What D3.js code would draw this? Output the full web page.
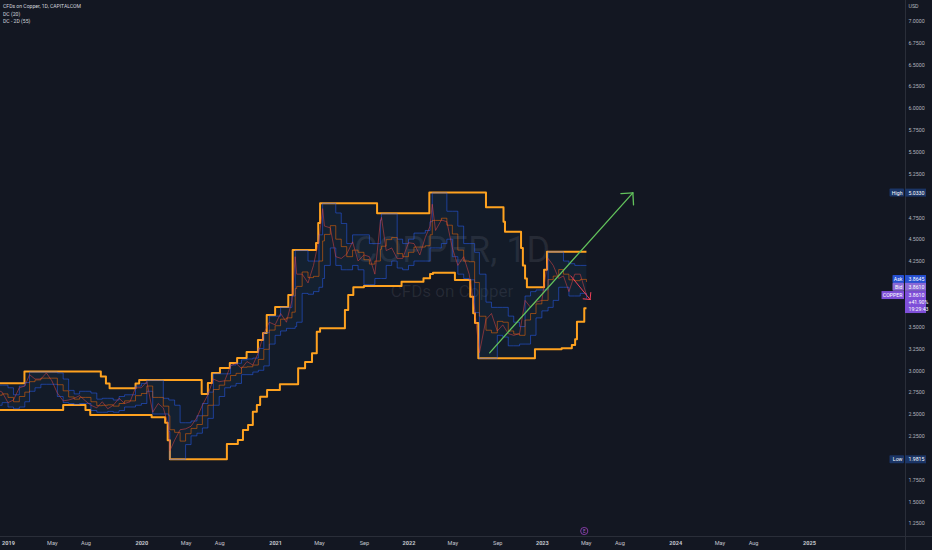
<!DOCTYPE html>
<html><head><meta charset="utf-8">
<script src="https://cdn.jsdelivr.net/npm/d3@7"></script>
<style>
html,body{margin:0;padding:0;background:#131722;overflow:hidden;}
svg{display:block;}
</style></head><body>
<svg id="chart" width="932" height="550"></svg>
<script>
// ---------- DATA ----------
const dates = [
  "2018-12-01","2018-12-16",
  "2019-01-01","2019-01-16","2019-02-01","2019-02-16","2019-03-01","2019-03-16","2019-04-01","2019-04-16","2019-05-01","2019-05-16","2019-06-01","2019-06-16",
  "2019-07-01","2019-07-16","2019-08-01","2019-08-16","2019-09-01","2019-09-16","2019-10-01","2019-10-16","2019-11-01","2019-11-16","2019-12-01","2019-12-16",
  "2020-01-01","2020-01-16","2020-02-01","2020-02-16","2020-03-01","2020-03-16","2020-03-19","2020-04-01","2020-04-16","2020-05-01","2020-05-16","2020-06-01","2020-06-16",
  "2020-07-01","2020-07-16","2020-08-01","2020-08-16","2020-09-01","2020-09-16","2020-10-01","2020-10-16","2020-11-01","2020-11-16","2020-12-01","2020-12-16",
  "2021-01-01","2021-01-16","2021-02-01","2021-02-16","2021-02-25","2021-03-01","2021-03-16","2021-04-01","2021-04-16","2021-05-01","2021-05-11","2021-05-16","2021-06-01","2021-06-16",
  "2021-07-01","2021-07-16","2021-08-01","2021-08-16","2021-09-01","2021-09-16","2021-10-01","2021-10-16","2021-10-19","2021-11-01","2021-11-16","2021-12-01","2021-12-16",
  "2022-01-01","2022-01-16","2022-02-01","2022-02-16","2022-03-01","2022-03-07","2022-03-16","2022-04-01","2022-04-16","2022-05-01","2022-05-16","2022-06-01","2022-06-16",
  "2022-07-01","2022-07-14","2022-08-01","2022-08-16","2022-09-01","2022-09-16","2022-10-01","2022-10-16","2022-11-01","2022-11-16","2022-12-01","2022-12-16",
  "2023-01-01","2023-01-18","2023-02-01","2023-02-16","2023-03-01","2023-03-16","2023-04-01","2023-04-16","2023-05-03"
];
const price = [
  2.78,2.75,
  2.63,2.66,2.80,2.82,2.95,2.90,2.90,2.97,2.88,2.74,2.65,2.66,
  2.68,2.71,2.65,2.60,2.57,2.64,2.56,2.60,2.68,2.62,2.64,2.80,
  2.80,2.87,2.52,2.62,2.57,2.35,2.08,2.20,2.32,2.33,2.36,2.46,2.60,
  2.72,2.90,2.87,2.88,3.05,3.08,3.02,3.10,3.06,3.20,3.42,3.55,
  3.52,3.65,3.55,3.80,4.30,4.10,4.10,4.00,4.20,4.50,4.85,4.65,4.63,4.30,
  4.28,4.33,4.47,4.25,4.32,4.30,4.10,4.70,4.75,4.37,4.40,4.28,4.28,
  4.46,4.45,4.32,4.52,4.65,4.90,4.60,4.72,4.70,4.40,4.20,4.30,4.10,
  3.70,3.20,3.58,3.65,3.45,3.52,3.42,3.40,3.42,3.80,3.72,3.78,
  3.80,4.28,4.20,4.05,4.08,3.90,4.10,4.10,3.86
];
const dc20Upper = [
  2.83,2.83,
  2.80,2.72,2.82,2.86,2.98,2.98,2.98,2.98,2.98,2.97,2.90,2.77,
  2.73,2.76,2.76,2.74,2.67,2.68,2.68,2.66,2.70,2.72,2.72,2.82,
  2.85,2.885,2.885,2.885,2.68,2.66,2.66,2.60,2.40,2.40,2.42,2.48,2.62,
  2.75,2.96,2.96,2.96,3.06,3.08,3.12,3.13,3.14,3.25,3.43,3.62,
  3.62,3.72,3.72,3.85,4.37,4.37,4.37,4.25,4.25,4.55,4.91,4.91,4.91,4.80,
  4.68,4.45,4.55,4.55,4.55,4.45,4.45,4.72,4.79,4.79,4.79,4.50,4.45,
  4.50,4.57,4.57,4.60,4.70,5.03,5.03,5.03,4.82,4.82,4.65,4.45,4.45,
  4.35,4.10,3.78,3.72,3.72,3.72,3.62,3.55,3.50,3.85,3.90,3.92,
  3.92,4.355,4.355,4.355,4.25,4.22,4.20,4.20,4.20
];
const dc20Lower = [
  2.60,2.63,
  2.58,2.56,2.58,2.64,2.76,2.80,2.84,2.84,2.84,2.70,2.63,2.62,
  2.61,2.62,2.62,2.54,2.52,2.52,2.53,2.52,2.54,2.58,2.58,2.60,
  2.62,2.76,2.50,2.50,2.50,2.30,1.9815,1.9815,1.9815,2.15,2.25,2.28,2.34,
  2.45,2.60,2.70,2.80,2.82,2.85,2.95,2.95,2.98,3.00,3.05,3.30,
  3.40,3.45,3.48,3.48,3.50,3.55,3.88,3.87,3.90,3.95,4.05,4.20,4.40,4.20,
  4.15,4.15,4.20,4.15,3.98,3.98,4.05,4.05,4.05,4.20,4.25,4.17,4.15,
  4.20,4.25,4.25,4.25,4.40,4.40,4.40,4.45,4.50,4.30,4.10,4.05,4.035,
  3.66,3.137,3.137,3.137,3.40,3.38,3.28,3.28,3.30,3.30,3.40,3.60,
  3.68,3.72,3.80,3.95,3.95,3.85,3.85,3.88,3.82
];
const dc20Basis = [
  2.715,2.73,
  2.69,2.64,2.70,2.75,2.87,2.89,2.91,2.91,2.91,2.835,2.765,2.695,
  2.67,2.69,2.69,2.64,2.595,2.60,2.605,2.59,2.62,2.65,2.65,2.71,
  2.735,2.82,2.69,2.69,2.59,2.48,2.32,2.29,2.19,2.275,2.335,2.38,2.48,
  2.60,2.78,2.83,2.88,2.94,2.965,3.035,3.04,3.06,3.125,3.24,3.46,
  3.51,3.585,3.60,3.665,3.935,3.96,4.125,4.06,4.075,4.25,4.48,4.555,4.655,4.50,
  4.415,4.30,4.375,4.35,4.265,4.215,4.25,4.385,4.42,4.495,4.52,4.335,4.30,
  4.35,4.41,4.41,4.425,4.55,4.715,4.715,4.74,4.66,4.56,4.375,4.25,4.2425,
  4.005,3.6185,3.4585,3.4285,3.56,3.55,3.45,3.415,3.40,3.575,3.65,3.76,
  3.80,4.0375,4.0775,4.1525,4.10,4.035,4.025,4.04,4.01
];
// DC - 2D (55): step change points [date, value]
const dc55Upper = [
  ["2018-12-01",2.851],["2019-02-15",2.985],["2019-09-12",2.93],["2019-09-26",2.85],["2019-10-06",2.794],
  ["2019-12-16",2.85],["2019-12-26",2.889],["2020-06-14",2.729],["2020-07-01",2.855],["2020-07-12",2.969],
  ["2020-08-03",3.026],["2020-08-30",3.083],["2020-09-19",3.141],["2020-10-15",3.209],["2020-11-15",3.347],
  ["2020-11-29",3.427],["2020-12-09",3.633],["2021-01-01",3.724],["2021-02-06",3.862],["2021-02-18",4.376],
  ["2021-04-23",4.457],["2021-04-29",4.686],["2021-05-04",4.911],["2021-10-07",4.796],["2022-02-27",5.033],
  ["2022-08-01",4.865],["2022-09-18",4.70],["2022-09-22",4.586],["2022-11-05",4.40],["2022-11-10",4.20],
  ["2022-11-16",4.05],["2022-11-21",3.95],["2023-01-07",4.15],["2023-01-15",4.357],["2023-05-03",4.357]
];
const dc55Lower = [
  ["2018-12-01",2.546],["2019-06-01",2.603],["2019-08-01",2.546],["2019-08-14",2.489],["2020-01-29",2.462],
  ["2020-03-06",2.40],["2020-03-13",2.20],["2020-03-19",1.9815],["2020-08-22",2.157],["2020-09-21",2.203],
  ["2020-10-05",2.317],["2020-10-19",2.374],["2020-11-01",2.526],["2020-11-12",2.603],["2020-11-21",2.698],
  ["2020-12-10",2.775],["2021-01-14",2.840],["2021-03-05",3.023],["2021-03-24",3.095],["2021-04-12",3.195],
  ["2021-04-25",3.442],["2021-05-04",3.481],["2021-07-11",3.690],["2021-07-20",3.862],["2021-08-03",3.950],
  ["2021-09-01",3.965],["2021-12-13",4.014],["2022-02-11",4.053],["2022-03-01",4.102],["2022-03-09",4.117],
  ["2022-05-08",4.033],["2022-06-19",3.842],["2022-06-27",3.652],["2022-07-02",3.541],["2022-07-11",3.137],
  ["2022-12-13",3.240],["2023-02-24",3.252],["2023-03-24",3.289],["2023-04-02",3.355],["2023-04-07",3.556],
  ["2023-04-27",3.709],["2023-05-03",3.709]
];
// drawings
const greenArrow = [["2022-08-11",3.20],["2023-09-07",5.03]];
const redArrow = [["2023-03-21",4.08],["2023-05-13",3.81]];
// axis ticks
const xTickDates = ["2019-01-01","2019-05-01","2019-08-01","2020-01-01","2020-05-01","2020-08-01","2021-01-01","2021-05-01","2021-09-01",
  "2022-01-01","2022-05-01","2022-09-01","2023-01-01","2023-05-01","2023-08-01","2024-01-01","2024-05-01","2024-08-01","2025-01-01"];
const xTickLabels = ["2019","May","Aug","2020","May","Aug","2021","May","Sep","2022","May","Sep","2023","May","Aug","2024","May","Aug","2025"];
const yTicks = [7.0,6.75,6.5,6.25,6.0,5.75,5.5,5.25,4.75,4.5,4.25,3.5,3.25,3.0,2.75,2.5,2.25,1.75,1.5,1.25];
// price-scale labels
const highValue = 5.0330, lowValue = 1.9815, askValue = 3.8645, bidValue = 3.8610, lastValue = 3.8610;
const changeText = "+41.90%", clockText = "19:29:43";
const legendLines = ["CFDs on Copper, 1D, CAPITALCOM","DC (20)","DC - 2D (55)"];

// ---------- CHART ----------
const W = 932, H = 550, plotRight = 905, plotBottom = 536;
const FONT = "Roboto, 'Liberation Sans', sans-serif";
const parse = d3.utcParse("%Y-%m-%d");
const x = d3.scaleUtc().domain([parse("2019-01-01"), parse("2025-01-01")]).range([8, 809]);
const y = d3.scaleLinear().domain([7, 1.25]).range([20.7, 523.25]);

const svg = d3.select("#chart");
svg.append("rect").attr("width", W).attr("height", H).attr("fill", "#131722");

// watermark
svg.append("text").attr("x", 452).attr("y", 262).attr("text-anchor", "middle")
  .attr("font-family", FONT).attr("font-size", 36).attr("fill", "rgba(178,181,190,0.12)").text("COPPER, 1D");
svg.append("text").attr("x", 452).attr("y", 297).attr("text-anchor", "middle")
  .attr("font-family", FONT).attr("font-size", 17).attr("fill", "rgba(178,181,190,0.12)").text("CFDs on Copper");

svg.append("defs").append("clipPath").attr("id", "plotClip")
  .append("rect").attr("x", 0).attr("y", 0).attr("width", plotRight).attr("height", plotBottom);
const plot = svg.append("g").attr("clip-path", "url(#plotClip)");

const rows = dates.map((d, i) => ({date: parse(d), price: price[i], upper: dc20Upper[i], lower: dc20Lower[i], basis: dc20Basis[i]}));
const up55 = dc55Upper.map(([d, v]) => ({date: parse(d), v}));
const lo55 = dc55Lower.map(([d, v]) => ({date: parse(d), v}));

// DC55 fill
const stepA = d3.line().curve(d3.curveStepAfter).x(d => x(d.date)).y(d => y(d.v));
const stepB = d3.line().curve(d3.curveStepBefore).x(d => x(d.date)).y(d => y(d.v));
const loRev = stepB(lo55.slice().reverse());
plot.append("path").attr("d", stepA(up55) + "L" + loRev.slice(1) + "Z").attr("fill", "rgba(33,150,243,0.03)");

// DC20 fill
plot.append("path").datum(rows)
  .attr("d", d3.area().curve(d3.curveStepAfter).x(d => x(d.date)).y0(d => y(d.lower)).y1(d => y(d.upper)))
  .attr("fill", "rgba(33,150,243,0.05)");

// DC55 thick orange lines
[up55, lo55].forEach(s => plot.append("path").attr("d", stepA(s)).attr("fill", "none")
  .attr("stroke", "#ffa21f").attr("stroke-width", 2).attr("stroke-linejoin", "round"));

// DC20 lines
const line20 = key => d3.line().curve(d3.curveStepAfter).x(d => x(d.date)).y(d => y(d[key]));
["upper", "lower"].forEach(k => plot.append("path").datum(rows).attr("d", line20(k)).attr("fill", "none")
  .attr("stroke", "rgba(41,98,255,0.5)").attr("stroke-width", 1));
plot.append("path").datum(rows).attr("d", line20("basis")).attr("fill", "none")
  .attr("stroke", "rgba(255,109,0,0.5)").attr("stroke-width", 1);

// price
plot.append("path").datum(rows)
  .attr("d", d3.line().x(d => x(d.date)).y(d => y(d.price)))
  .attr("fill", "none").attr("stroke", "rgba(232,70,70,0.5)").attr("stroke-width", 1);

// arrows
function arrow(pts, color, width, head) {
  const [p0, p1] = pts.map(([d, v]) => [x(parse(d)), y(v)]);
  const g = svg.append("g").attr("stroke", color).attr("stroke-width", width).attr("stroke-linecap", "round");
  g.append("line").attr("x1", p0[0]).attr("y1", p0[1]).attr("x2", p1[0]).attr("y2", p1[1]);
  const ang = Math.atan2(p1[1] - p0[1], p1[0] - p0[0]);
  [-1, 1].forEach(s => {
    const a = ang + Math.PI + s * Math.PI / 4;
    g.append("line").attr("x1", p1[0]).attr("y1", p1[1])
      .attr("x2", p1[0] + head * Math.cos(a)).attr("y2", p1[1] + head * Math.sin(a));
  });
}
arrow(greenArrow, "#62c25c", 1.3, 12);
arrow(redArrow, "#ef4058", 1, 7);

// axis lines
svg.append("line").attr("x1", 0).attr("x2", W).attr("y1", plotBottom + 0.5).attr("y2", plotBottom + 0.5).attr("stroke", "#2a2e39");
svg.append("line").attr("x1", plotRight + 0.5).attr("x2", plotRight + 0.5).attr("y1", 0).attr("y2", H).attr("stroke", "#2a2e39");

// bottom axis
const gx = svg.append("g").attr("transform", `translate(0,${plotBottom})`)
  .call(d3.axisBottom(x).tickValues(xTickDates.map(parse)).tickFormat((d, i) => xTickLabels[i]).tickSize(0).tickPadding(5));
gx.select(".domain").remove();
gx.selectAll("text").attr("font-family", FONT).attr("font-size", 5.6).attr("fill", "#c3c6ce")
  .attr("font-weight", (d, i) => /^\d{4}$/.test(xTickLabels[i]) ? "bold" : "normal");

// right axis
const gy = svg.append("g").attr("transform", `translate(${plotRight},0)`)
  .call(d3.axisRight(y).tickValues(yTicks).tickFormat(d3.format(".4f")).tickSize(0).tickPadding(3.5));
gy.select(".domain").remove();
gy.selectAll("text").attr("font-family", FONT).attr("font-size", 5.3).attr("fill", "#b2b5be");
svg.append("text").attr("x", 908.5).attr("y", 8).attr("font-family", FONT).attr("font-size", 5.3).attr("fill", "#b2b5be").text("USD");

// price-scale labels
function tag(yc, name, value, bg, nameX0) {
  svg.append("rect").attr("x", nameX0).attr("y", yc - 4).attr("width", 904 - nameX0).attr("height", 8).attr("fill", bg).attr("rx", 0.8);
  svg.append("text").attr("x", 902.5).attr("y", yc + 1.9).attr("text-anchor", "end").attr("font-family", FONT).attr("font-size", 5.2).attr("fill", "#ffffff").text(name);
  svg.append("rect").attr("x", 905).attr("y", yc - 4).attr("width", 21).attr("height", 8).attr("fill", bg);
  svg.append("text").attr("x", 908.5).attr("y", yc + 1.9).attr("font-family", FONT).attr("font-size", 5.2).attr("fill", "#ffffff").text(value);
}
tag(y(highValue), "High", d3.format(".4f")(highValue), "#1b3566", 889.5);
tag(y(lowValue), "Low", d3.format(".4f")(lowValue), "#1b3566", 889.5);
const yLast = y(lastValue);
tag(yLast - 16, "Ask", d3.format(".4f")(askValue), "#2650d0", 892.5);
tag(yLast - 8.2, "Bid", d3.format(".4f")(bidValue), "#8a69d6", 892.5);
// COPPER tag with 3-line value box
svg.append("rect").attr("x", 881.5).attr("y", yLast - 4).attr("width", 22.5).attr("height", 8).attr("fill", "#7e4fd8");
svg.append("text").attr("x", 902.5).attr("y", yLast + 1.9).attr("text-anchor", "end").attr("font-family", FONT).attr("font-size", 5.2).attr("fill", "#fff").text("COPPER");
svg.append("rect").attr("x", 905).attr("y", yLast - 4).attr("width", 21).attr("height", 22).attr("fill", "#7e4fd8");
[d3.format(".4f")(lastValue), changeText, clockText].forEach((t, i) =>
  svg.append("text").attr("x", 908.5).attr("y", yLast + 1.9 + i * 7.2).attr("font-family", FONT).attr("font-size", 5.2).attr("fill", "#fff").text(t));

// event marker on time axis
svg.append("circle").attr("cx", x(parse("2023-05-01")) - 1.5).attr("cy", 531).attr("r", 3.6)
  .attr("fill", "#131722").attr("stroke", "#8e3fb0").attr("stroke-width", 0.9);
svg.append("text").attr("x", x(parse("2023-05-01")) - 1.5).attr("y", 532.8).attr("text-anchor", "middle")
  .attr("font-family", FONT).attr("font-size", 4.5).attr("fill", "#a55cc8").text("E");

// legend
legendLines.forEach((t, i) => svg.append("text").attr("x", 3).attr("y", 8 + i * 7.6)
  .attr("font-family", FONT).attr("font-size", 5.1).attr("fill", "#d1d4dc").text(t));
</script>
</body></html>
